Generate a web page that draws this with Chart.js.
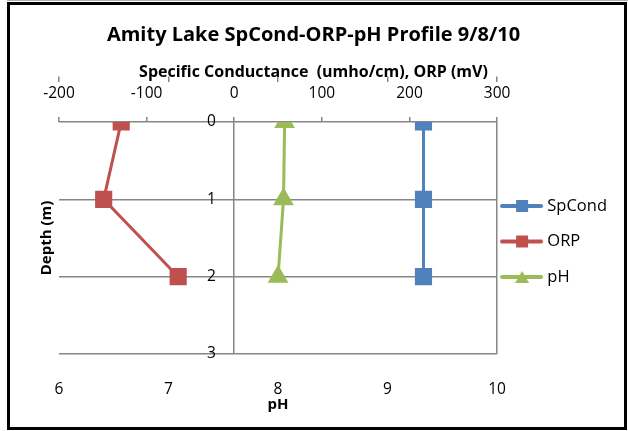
<!DOCTYPE html>
<html>
<head>
<meta charset="utf-8">
<script src="https://cdn.jsdelivr.net/npm/chart.js@4.4.0/dist/chart.umd.min.js"></script>
<style>
  body { margin: 0; background: #fff; }
  #topline { position: absolute; left: 7px; top: 0; width: 621px; height: 1px; background: #b0b0b0; }
  #frame { position: absolute; left: 7px; top: 2px; width: 620px; height: 428px; border: 3px solid #000; box-sizing: border-box; background: #fff; }
  #frame canvas { display: block; }
</style>
</head>
<body>
<div id="topline"></div>
<div id="frame"><canvas id="myChart" width="614" height="422"></canvas></div>
<script>
// depth profile readings (m)
const depths = [0, 1, 2];
const spCond = [216, 216, 216];
const orp = [-129, -149, -64];
const ph = [8.06, 8.05, 8.0];

// axis ranges
const topRange = [-200, 300];
const phRange = [6, 10];
const depthRange = [0, 3];

const blue = "#4F81BD";
const red = "#C0504D";
const green = "#9BBB59";
const gray = "#868686";

Chart.defaults.font.family = "'Open Sans', Lato, sans-serif";
Chart.defaults.color = "#000";

function points(values) {
  return values.map((v, i) => ({ x: v, y: depths[i] }));
}

// line + marker sample used as the legend symbol
function legendImage(color, style) {
  const c = document.createElement("canvas");
  c.width = 55;
  c.height = 16;
  const ctx = c.getContext("2d");
  ctx.strokeStyle = color;
  ctx.lineWidth = 4;
  ctx.lineCap = "round";
  ctx.beginPath();
  ctx.moveTo(2, 8);
  ctx.lineTo(41, 8);
  ctx.stroke();
  ctx.fillStyle = color;
  if (style === "rect") {
    ctx.fillRect(16, 2, 12, 12);
  } else {
    ctx.beginPath();
    ctx.moveTo(22, 2);
    ctx.lineTo(29, 14);
    ctx.lineTo(15, 14);
    ctx.closePath();
    ctx.fill();
  }
  return c;
}
const legendImgs = [legendImage(blue, "rect"), legendImage(red, "rect"), legendImage(green, "triangle")];

const data = {
  datasets: [
    {
      label: "SpCond",
      data: points(spCond),
      xAxisID: "xTop",
      yAxisID: "y",
      showLine: true,
      borderColor: blue,
      backgroundColor: blue,
      borderWidth: 3,
      pointStyle: "rect",
      pointRadius: 10,
      pointHoverRadius: 10,
    },
    {
      label: "ORP",
      data: points(orp),
      xAxisID: "xTop",
      yAxisID: "y",
      showLine: true,
      borderColor: red,
      backgroundColor: red,
      borderWidth: 3,
      pointStyle: "rect",
      pointRadius: 10,
      pointHoverRadius: 10,
    },
    {
      label: "pH",
      data: points(ph),
      xAxisID: "xPh",
      yAxisID: "y",
      showLine: true,
      borderColor: green,
      backgroundColor: green,
      borderWidth: 3,
      pointStyle: "triangle",
      pointRadius: 9,
      pointHoverRadius: 9,
    },
  ],
};

const config = {
  type: "scatter",
  data: data,
  options: {
    responsive: false,
    animation: false,
    layout: { padding: { left: 0, right: 7, top: 0, bottom: 0 } },
    plugins: {
      title: {
        display: true,
        text: "Amity Lake SpCond-ORP-pH Profile 9/8/10",
        font: { size: 20, weight: "bold" },
        padding: { top: 18, bottom: 0 },
      },
      subtitle: {
        display: true,
        text: "Specific Conductance  (umho/cm), ORP (mV)",
        font: { size: 16, weight: "bold" },
        padding: { top: 15.4, bottom: 0 },
      },
      legend: {
        position: "right",
        fullSize: false,
        title: { display: true, text: "", font: { size: 7, lineHeight: 1 }, padding: 0 },
        labels: {
          usePointStyle: true,
          pointStyleWidth: 23,
          padding: 19,
          color: "#000",
          font: { size: 16.5 },
          generateLabels(chart) {
            const items = Chart.defaults.plugins.legend.labels.generateLabels(chart);
            return items.map((item, i) => ({ ...item, pointStyle: legendImgs[i] }));
          },
        },
      },
      tooltip: { enabled: false },
    },
    scales: {
      xTop: {
        type: "linear",
        position: "top",
        min: topRange[0],
        max: topRange[1],
        ticks: { stepSize: 100, padding: 14.5, font: { size: 15.5 } },
        grid: {
          color: (ctx) => (ctx.tick && (ctx.tick.value === 0 || ctx.tick.value === 300) ? gray : "rgba(0,0,0,0)"),
          tickColor: gray,
          lineWidth: 1.5,
          tickLength: 5,
        },
        border: { display: false },
        afterFit(scale) {
          scale.height = 40.4;
        },
      },
      xPhTicks: {
        type: "linear",
        position: "top",
        min: phRange[0],
        max: phRange[1],
        ticks: { stepSize: 1, display: false },
        grid: { drawOnChartArea: false, color: gray, lineWidth: 1.5, tickLength: 5 },
        border: { display: false },
        afterFit(scale) {
          scale.height = 0;
        },
      },
      xPh: {
        type: "linear",
        position: "bottom",
        min: phRange[0],
        max: phRange[1],
        ticks: { stepSize: 1, padding: 26, font: { size: 15.5 } },
        grid: { display: false, drawTicks: false },
        border: { display: false },
        title: {
          display: true,
          text: "pH",
          font: { size: 15, weight: "bold" },
          padding: { top: 0, bottom: 13 },
        },
        afterFit(scale) {
          scale.height = 73;
        },
      },
      y: {
        type: "linear",
        position: "left",
        reverse: true,
        min: depthRange[0],
        max: depthRange[1],
        ticks: { stepSize: 1, mirror: true, padding: 148, font: { size: 15.5 } },
        grid: { color: gray, lineWidth: 1.5, drawTicks: false },
        border: { display: false },
        title: {
          display: true,
          text: "Depth (m)",
          font: { size: 15, weight: "bold" },
          padding: { top: 28, bottom: 0 },
        },
        afterFit(scale) {
          // depth labels sit inside the plot, next to the zero line
          scale.width = 49;
          scale.paddingTop = 0;
          scale.paddingBottom = 0;
        },
      },
    },
  },
};

const myChart = new Chart(document.getElementById("myChart"), config);
</script>
</body>
</html>
